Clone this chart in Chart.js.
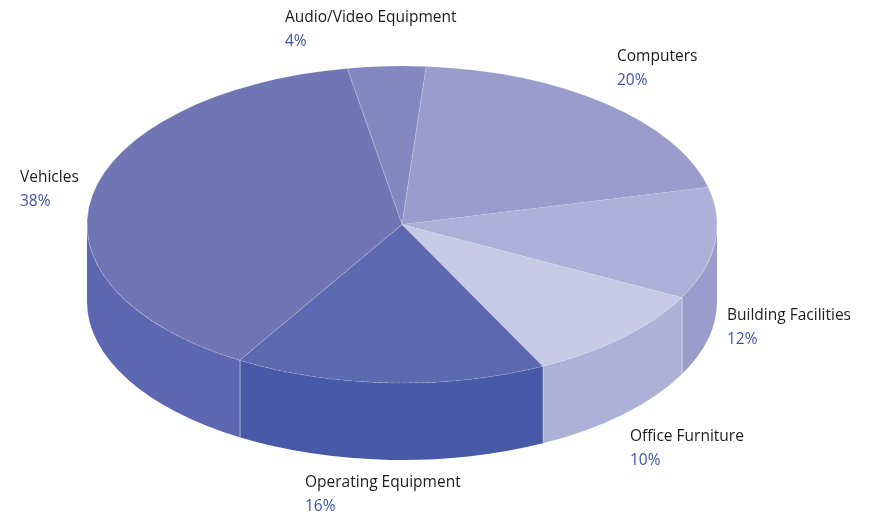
<!DOCTYPE html>
<html>
<head>
<meta charset="utf-8">
<script src="https://cdn.jsdelivr.net/npm/chart.js@4"></script>
<style>
  html, body { margin: 0; padding: 0; background: #fff; }
  #wrap { width: 875px; height: 516px; }
</style>
</head>
<body>
<div id="wrap"><canvas id="pie" width="875" height="516"></canvas></div>
<script>
'use strict';

// ── data ────────────────────────────────────────────────────────────────────
const categories = ['Audio/Video Equipment', 'Computers', 'Building Facilities',
  'Office Furniture', 'Operating Equipment', 'Vehicles'];
const shares = [4, 20, 11.4, 10, 16, 38.6];
const shareLabels = ['4%', '20%', '12%', '10%', '16%', '38%'];

// ── style ───────────────────────────────────────────────────────────────────
const topColors  = ['#8388c0', '#9b9ccb', '#adb0d8', '#c8c9e5', '#5c69b0', '#7076b4'];
const wallColors = ['#6f77b6', '#8788c0', '#9b9ccb', '#adb0d7', '#4859a8', '#5d66b0'];
const labelAnchors = [[285, 17.5], [617, 56.5], [727, 315.5], [630, 436.5], [305, 482.5], [20, 177.5]];

const ELLIPSE = { cx: 402, cy: 224.5, rx: 315, ry: 158.5, depth: 77 };

// map the library's circular arcs onto the flattened ellipse
function setView(ctx, arc) {
  const R = arc.outerRadius;
  ctx.setTransform(1, 0, 0, 1, 0, 0);
  ctx.translate(ELLIPSE.cx, ELLIPSE.cy);
  ctx.scale(ELLIPSE.rx / R, ELLIPSE.ry / R);
  ctx.translate(-arc.x, -arc.y);
}

const pie3d = {
  id: 'pie3d',
  beforeDatasetsDraw(chart) {
    const ctx = chart.ctx;
    const arcs = chart.getDatasetMeta(0).data;
    if (!arcs.length) return false;
    ctx.save();
    setView(ctx, arcs[0]);
    const D = ELLIPSE.depth * arcs[0].outerRadius / ELLIPSE.ry;

    // side walls, only the front half (0..PI) is visible
    arcs.forEach((a, i) => {
      for (let k = -1; k <= 1; k++) {
        const s = Math.max(a.startAngle, 0 + k * 2 * Math.PI);
        const e = Math.min(a.endAngle, Math.PI + k * 2 * Math.PI);
        if (e <= s) continue;
        ctx.beginPath();
        ctx.arc(a.x, a.y, a.outerRadius, s, e);
        ctx.arc(a.x, a.y + D, a.outerRadius, e, s, true);
        ctx.closePath();
        ctx.fillStyle = wallColors[i];
        ctx.fill();
      }
    });

    // faint seams on the front wall
    arcs.forEach(a => {
      const ang = a.startAngle;
      if (Math.sin(ang) <= 0.02) return;
      const px = ELLIPSE.cx + Math.cos(ang) * ELLIPSE.rx;
      const py = ELLIPSE.cy + Math.sin(ang) * ELLIPSE.ry;
      ctx.save();
      ctx.setTransform(1, 0, 0, 1, 0, 0);
      ctx.strokeStyle = 'rgba(255,255,255,0.3)';
      ctx.lineWidth = 1;
      ctx.beginPath();
      ctx.moveTo(Math.round(px) + 0.5, py);
      ctx.lineTo(Math.round(px) + 0.5, py + ELLIPSE.depth);
      ctx.stroke();
      ctx.restore();
    });

    // top face
    arcs.forEach(a => a.draw(ctx));

    // light rim between top and wall
    const a0 = arcs[0];
    ctx.beginPath();
    ctx.arc(a0.x, a0.y, a0.outerRadius, 0, Math.PI);
    ctx.save();
    ctx.setTransform(1, 0, 0, 1, 0, 0);
    ctx.strokeStyle = 'rgba(255,255,255,0.15)';
    ctx.lineWidth = 1;
    ctx.setLineDash([3, 3]);
    ctx.stroke();
    ctx.restore();

    ctx.restore();
    return false;
  },
  afterDraw(chart) {
    const ctx = chart.ctx;
    ctx.save();
    ctx.textBaseline = 'middle';
    ctx.textAlign = 'left';
    ctx.font = '15.5px "Open Sans", sans-serif';
    categories.forEach((name, i) => {
      const [x, y] = labelAnchors[i];
      ctx.fillStyle = '#1c1c1c';
      ctx.fillText(name, x, y);
      ctx.fillStyle = '#3b54a6';
      ctx.fillText(shareLabels[i], x, y + 24);
    });
    ctx.restore();
  }
};

new Chart(document.getElementById('pie'), {
  type: 'pie',
  data: {
    labels: categories,
    datasets: [{
      data: shares,
      backgroundColor: topColors,
      borderColor: 'rgba(255,255,255,0.15)',
      borderWidth: 1,
      hoverOffset: 0,
    }],
  },
  options: {
    responsive: false,
    animation: false,
    events: [],
    rotation: -10,
    layout: { padding: 0 },
    plugins: {
      legend: { display: false },
      tooltip: { enabled: false },
    },
  },
  plugins: [pie3d],
});
</script>
</body>
</html>
